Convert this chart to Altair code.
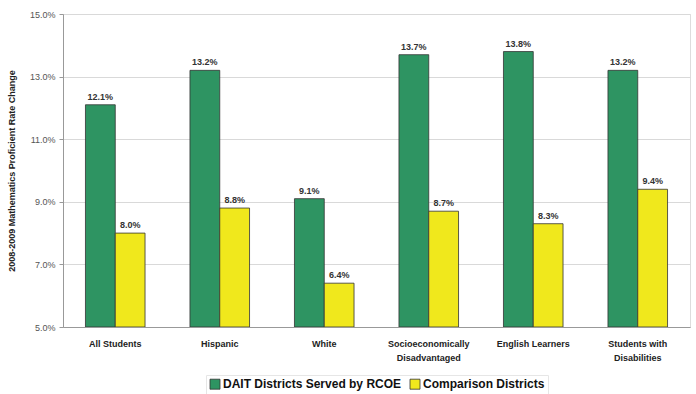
import altair as alt
import pandas as pd

categories = ["All Students", "Hispanic", "White", "Socioeconomically Disadvantaged",
              "English Learners", "Students with Disabilities"]
series = ["DAIT Districts Served by RCOE", "Comparison Districts"]
dait = [12.1, 13.2, 9.1, 13.7, 13.8, 13.2]
comparison = [8.0, 8.8, 6.4, 8.7, 8.3, 9.4]
y_ticks = [5.0, 7.0, 9.0, 11.0, 13.0, 15.0]

rows = []
for c, a, b in zip(categories, dait, comparison):
    rows.append({"cat": c, "series": series[0], "value": a})
    rows.append({"cat": c, "series": series[1], "value": b})
df = pd.DataFrame(rows)

FONT = "Liberation Sans"

x = alt.X("cat:N", sort=categories, title=None,
          scale=alt.Scale(paddingInner=0.43, paddingOuter=0.215),
          axis=alt.Axis(labelAngle=0, labelFontWeight="bold", labelFontSize=9,
                        labelColor="#222", labelFont=FONT, ticks=False,
                        domainColor="#999", labelPadding=12, labelLineHeight=14,
                        labelExpr="datum.label == 'Socioeconomically Disadvantaged' ? ['Socioeconomically','Disadvantaged'] : datum.label == 'Students with Disabilities' ? ['Students with','Disabilities'] : datum.label"))
xo = alt.XOffset("series:N", sort=series)
y = alt.Y("value:Q", title="2008-2009 Mathematics Proficient Rate Change",
          scale=alt.Scale(domain=[5, 15], nice=False, zero=False),
          axis=alt.Axis(values=y_ticks, labelExpr="format(datum.value, '.1f') + '%'",
                        labelFontSize=9, labelColor="#555", labelFont=FONT,
                        titleFontSize=9, titleFontWeight="bold", titleColor="#222",
                        titleFont=FONT, titlePadding=13, tickSize=4, tickColor="#999",
                        domainColor="#999", gridColor="#d9d9d9", labelPadding=4))

bars = alt.Chart(df).mark_bar(stroke="#333", strokeWidth=0.8, clip=True).encode(
    x=x, xOffset=xo, y=y, y2=alt.datum(5),
    color=alt.Color("series:N", sort=series, title=None,
                    scale=alt.Scale(domain=series, range=["#2e9462", "#f0e81c"]),
                    legend=alt.Legend(orient="none", direction="horizontal",
                                      legendX=143, legendY=361,
                                      symbolType="square", symbolSize=100,
                                      symbolStrokeColor="#333", symbolStrokeWidth=0.8,
                                      labelFontSize=12, labelFont=FONT,
                                      labelColor="#111", labelFontWeight="bold",
                                      labelLimit=300,
                                      columnPadding=6, labelOffset=2,
                                      padding=3, strokeColor="#e6e6e6"))
)

labels = alt.Chart(df).transform_calculate(
    lbl="format(datum.value, '.1f') + '%'"
).mark_text(dy=-8, fontSize=9, fontWeight="bold", color="#333", font=FONT).encode(
    x=alt.X("cat:N", sort=categories), xOffset=xo, y="value:Q", text="lbl:N"
)

chart = (bars + labels).properties(
    width=627, height=313,
    autosize=alt.AutoSizeParams(type="none"),
    padding={"left": 63, "top": 14, "right": 6, "bottom": 67}
).configure_view(stroke="#bbb", strokeWidth=1).configure(background="white")

chart.save("out.html", embed_options={"renderer": "svg", "actions": False})
